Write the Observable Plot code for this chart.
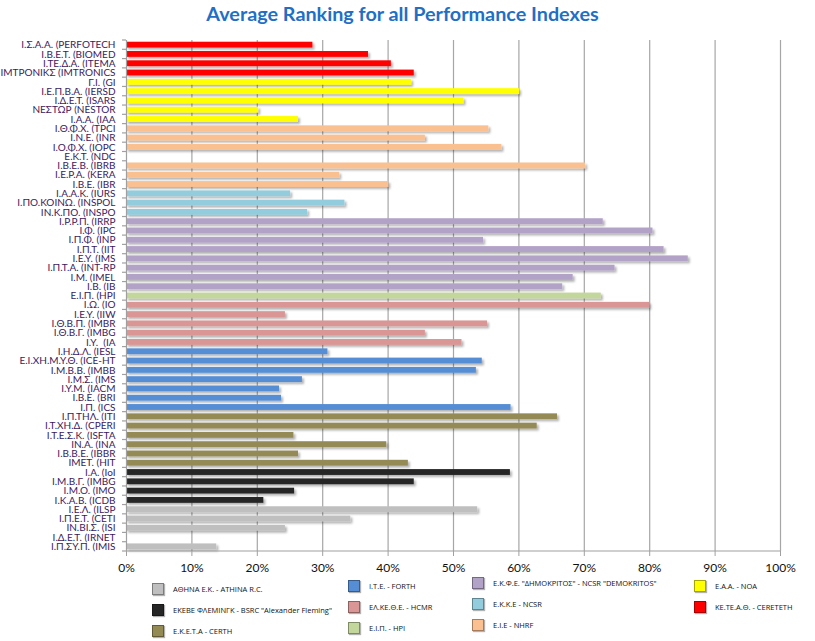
<!DOCTYPE html>
<html>
<head>
<meta charset="utf-8">
<script src="https://cdn.jsdelivr.net/npm/d3@7"></script>
<script src="https://cdn.jsdelivr.net/npm/@observablehq/plot@0.6"></script>
<style>
  body { margin: 0; background: #fff; }
  #wrap { position: relative; width: 815px; height: 641px; font-family: Lato, "Open Sans", sans-serif; }
  #title { position: absolute; left: 0; top: 1px; width: 805px; text-align: center; font-family: Lato, "Open Sans", sans-serif; font-weight: bold; font-size: 19.8px; color: #1f6fc6; }
  #chart { position: absolute; left: 0; top: 32px; }
  .leg { position: absolute; display: flex; align-items: center; font-family: "Open Sans", sans-serif; font-size: 7.5px; color: #111; white-space: nowrap; }
  .sw { width: 12px; height: 12px; box-sizing: border-box; border: 1px solid rgba(0,0,0,0.35); box-shadow: 1px 1px 1px rgba(0,0,0,0.3); margin-right: 9px; }
</style>
</head>
<body>
<div id="wrap">
  <div id="title">Average Ranking for all Performance Indexes</div>
  <div id="chart"></div>
</div>
<script>
const labels = [
  "Ι.Σ.Α.Α. (PERFOTECH", "Ι.Β.Ε.Τ. (BIOMED", "Ι.ΤΕ.Δ.Α. (ITEMA", "ΙΜΤΡΟΝΙΚΣ (IMTRONICS",
  "Γ.Ι. (GI", "Ι.Ε.Π.Β.Α. (IERSD", "Ι.Δ.Ε.Τ. (ISARS", "ΝΕΣΤΩΡ (NESTOR", "Ι.Α.Α. (IAA",
  "Ι.Θ.Φ.Χ. (TPCI", "Ι.Ν.Ε. (INR", "Ι.Ο.Φ.Χ. (IOPC", "Ε.Κ.Τ. (NDC", "Ι.Β.Ε.Β. (IBRB", "Ι.Ε.Ρ.Α. (KERA", "Ι.Β.Ε. (IBR",
  "Ι.Α.Α.Κ. (IURS", "Ι.ΠΟ.ΚΟΙΝΩ. (INSPOL", "ΙΝ.Κ.ΠΟ. (INSPO",
  "Ι.Ρ.Ρ.Π. (IRRP", "Ι.Φ. (IPC", "Ι.Π.Φ. (INP", "Ι.Π.Τ. (IIT", "Ι.Ε.Υ. (IMS", "Ι.Π.Τ.Α. (INT-RP", "Ι.Μ. (IMEL", "Ι.Β. (IB",
  "Ε.Ι.Π. (HPI",
  "Ι.Ω. (IO", "Ι.Ε.Υ. (IIW", "Ι.Θ.Β.Π. (IMBR", "Ι.Θ.Β.Γ. (IMBG", "Ι.Υ.  (IA",
  "Ι.Η.Δ.Λ. (IESL", "Ε.Ι.ΧΗ.Μ.Υ.Θ. (ICE-HT", "Ι.Μ.Β.Β. (IMBB", "Ι.Μ.Σ. (IMS", "Ι.Υ.Μ. (IACM", "Ι.Β.Ε. (BRI", "Ι.Π. (ICS",
  "Ι.Π.ΤΗΛ. (ITI", "Ι.Τ.ΧΗ.Δ. (CPERI", "Ι.Τ.Ε.Σ.Κ. (ISFTA", "ΙΝ.Α. (INA", "Ι.Β.Β.Ε. (IBBR", "ΙΜΕΤ. (HIT",
  "Ι.Α. (IoI", "Ι.Μ.Β.Γ. (IMBG", "Ι.Μ.Ο. (IMO", "Ι.Κ.Α.Β. (ICDB",
  "Ι.Ε.Λ. (ILSP", "Ι.Π.Ε.Τ. (CETI", "ΙΝ.ΒΙ.Σ. (ISI", "Ι.Δ.Ε.Τ. (IRNET", "Ι.Π.ΣΥ.Π. (IMIS"
];

const values = [
  28.5, 37.0, 40.5, 44.0,
  43.6, 60.1, 51.6, 20.2, 26.3,
  55.4, 45.7, 57.4, null, 70.2, 32.6, 40.1,
  25.1, 33.4, 27.7,
  72.9, 80.5, 54.6, 82.2, 85.9, 74.7, 68.3, 66.7,
  72.6,
  80.0, 24.3, 55.2, 45.7, 51.3,
  30.8, 54.4, 53.5, 26.9, 23.4, 23.7, 58.8,
  65.9, 62.8, 25.6, 39.8, 26.3, 43.1,
  58.7, 44.0, 25.7, 21.0,
  53.7, 34.3, 24.3, null, 13.8
];

const orgOf = [
  "CERETETH", "CERETETH", "CERETETH", "CERETETH",
  "NOA", "NOA", "NOA", "NOA", "NOA",
  "NHRF", "NHRF", "NHRF", "NHRF", "NHRF", "NHRF", "NHRF",
  "NCSR", "NCSR", "NCSR",
  "DEM", "DEM", "DEM", "DEM", "DEM", "DEM", "DEM", "DEM",
  "HPI",
  "HCMR", "HCMR", "HCMR", "HCMR", "HCMR",
  "FORTH", "FORTH", "FORTH", "FORTH", "FORTH", "FORTH", "FORTH",
  "CERTH", "CERTH", "CERTH", "CERTH", "CERTH", "CERTH",
  "BSRC", "BSRC", "BSRC", "BSRC",
  "ATHENA", "ATHENA", "ATHENA", "ATHENA", "ATHENA"
];

// legend, column by column
const orgKeys = ["ATHENA", "BSRC", "CERTH", "FORTH", "HCMR", "HPI", "DEM", "NCSR", "NHRF", "NOA", "CERETETH"];
const orgNames = [
  "ΑΘΗΝΑ Ε.Κ. - ATHINA R.C.",
  "ΕΚΕΒΕ ΦΛΕΜΙΝΓΚ - BSRC \"Alexander Fleming\"",
  "Ε.Κ.Ε.Τ.Α - CERTH",
  "Ι.Τ.Ε. - FORTH",
  "ΕΛ.ΚΕ.Θ.Ε. - HCMR",
  "Ε.Ι.Π. -  HPI",
  "Ε.Κ.Φ.Ε. \"ΔΗΜΟΚΡΙΤΟΣ\" - NCSR \"DEMOKRITOS\"",
  "Ε.Κ.Κ.Ε - NCSR",
  "Ε.Ι.Ε - NHRF",
  "Ε.Α.Α. - NOA",
  "ΚΕ.ΤΕ.Α.Θ. - CERETETH"
];
const orgColors = ["#bfbfbf", "#262626", "#948a54", "#558ed5", "#d99694", "#c3d69b", "#b3a2c7", "#93cddd", "#fac090", "#ffff00", "#ff0000"];

const xTicks = [0, 10, 20, 30, 40, 50, 60, 70, 80, 90, 100];

const rows = labels.map((l, i) => ({label: l, value: values[i], org: orgOf[i]}));

const W = 815, H = 546, ML = 126, MR = 35, MT = 8, MB = 27;

const chart = Plot.plot({
  width: W, height: H,
  marginLeft: ML, marginRight: MR, marginTop: MT, marginBottom: MB,
  style: {fontFamily: "Lato, 'Open Sans', sans-serif", background: "#fff"},
  x: {domain: [0, 100], ticks: xTicks, label: null},
  y: {domain: labels, paddingInner: 0.37, paddingOuter: 0.185, round: false, label: null},
  color: {domain: orgKeys, range: orgColors},
  marks: [
    Plot.gridX(xTicks.slice(1), {stroke: "#a6a6a6", strokeOpacity: 1, strokeWidth: 1.2}),
    Plot.barX(rows.filter(d => d.value != null), {x: "value", y: "label", fill: "org"}),
    Plot.ruleX([0], {stroke: "#a0a0a0", strokeWidth: 1.2}),
    Plot.axisX(xTicks, {tickSize: 5, tickPadding: 7, stroke: "#a0a0a0", fontSize: 12, fill: "#111", tickFormat: d => d + "%"}),
    Plot.axisY({tickSize: 0, tickPadding: 11, fontSize: 10, fill: "#3a1a60"})
  ]
});
document.getElementById("chart").appendChild(chart);

// drop shadow for bars
const svg = d3.select(chart);
const defs = svg.insert("defs", ":first-child");
const f = defs.append("filter").attr("id", "sh").attr("x", "-10%").attr("y", "-60%").attr("width", "130%").attr("height", "260%");
f.append("feDropShadow").attr("dx", 2).attr("dy", 2).attr("stdDeviation", 1.2).attr("flood-color", "#000").attr("flood-opacity", 0.3);
svg.selectAll('g[aria-label="bar"]').attr("filter", "url(#sh)");

// Excel-style axis decorations derived from scales
const xs = chart.scale("x");
const x0 = xs.apply(0), x1 = xs.apply(100);
const yTop = MT, yBot = H - MB;
const deco = svg.append("g").attr("stroke", "#a0a0a0").attr("stroke-width", 1.2);
deco.append("line").attr("x1", x0).attr("x2", x1).attr("y1", yBot).attr("y2", yBot);
const stepY = (yBot - yTop) / labels.length;
for (let i = 0; i <= labels.length; i++) {
  const yy = yTop + i * stepY;
  deco.append("line").attr("x1", x0 - 4).attr("x2", x0).attr("y1", yy).attr("y2", yy);
}

// legend
const colLeft = [152, 348, 472, 694];
const colTop = [583, 580, 577, 580];
const colOf = [0, 0, 0, 1, 1, 1, 2, 2, 2, 3, 3];
const rowOf = [0, 1, 2, 0, 1, 2, 0, 1, 2, 0, 1];
const wrap = document.getElementById("wrap");
orgKeys.forEach((k, i) => {
  const item = document.createElement("div");
  item.className = "leg";
  item.style.left = colLeft[colOf[i]] + "px";
  item.style.top = (colTop[colOf[i]] + rowOf[i] * 21) + "px";
  const sw = document.createElement("div");
  sw.className = "sw";
  sw.style.background = orgColors[i];
  const t = document.createElement("span");
  t.textContent = orgNames[i];
  item.appendChild(sw);
  item.appendChild(t);
  wrap.appendChild(item);
});
</script>
</body>
</html>
